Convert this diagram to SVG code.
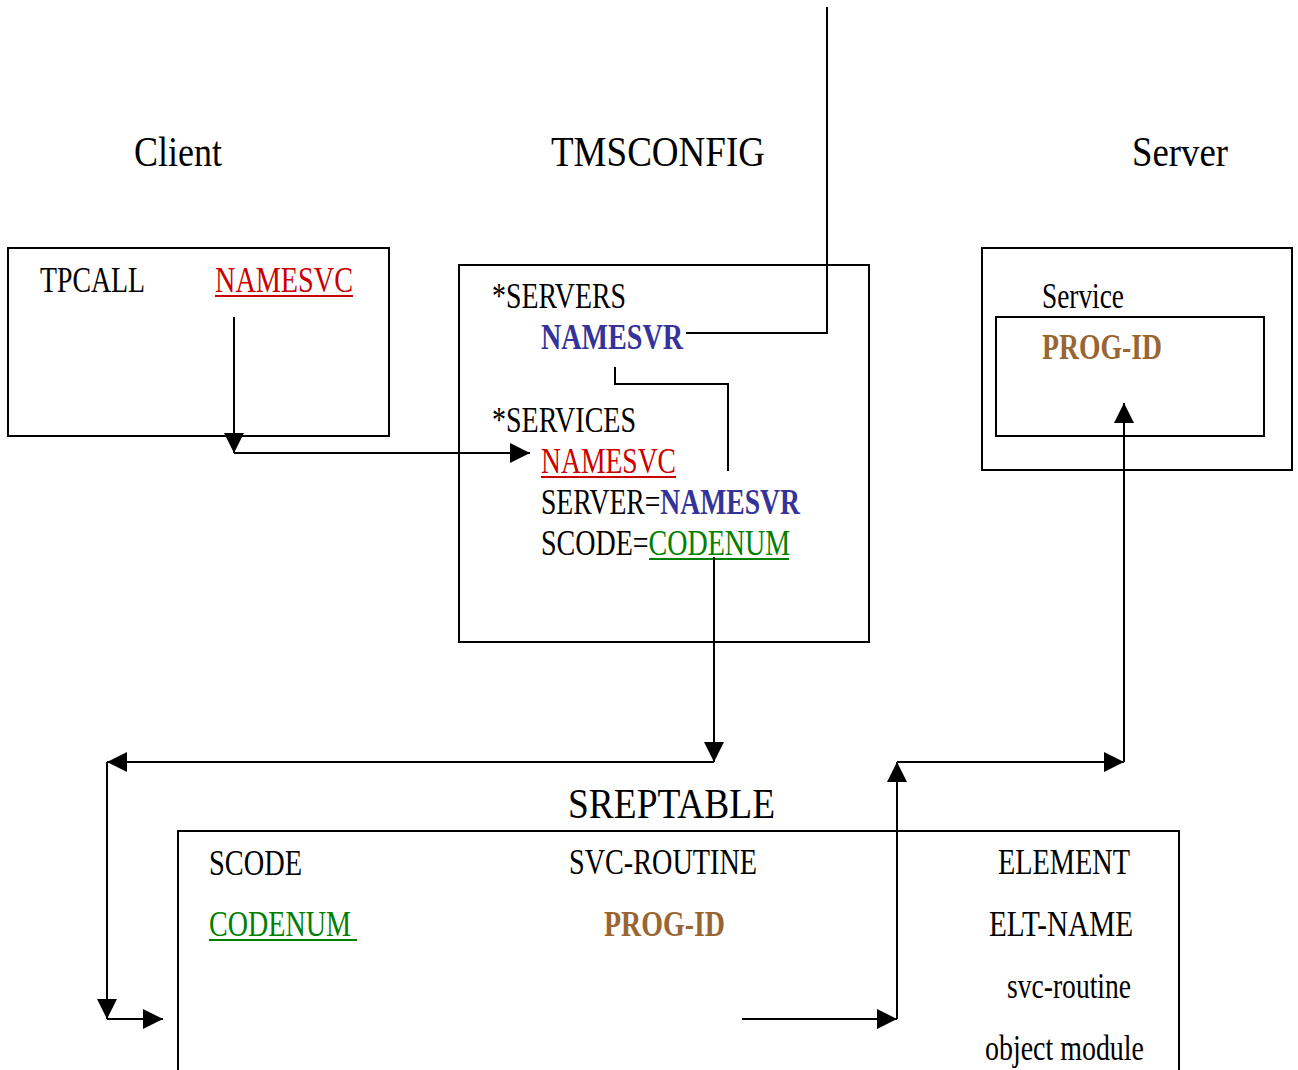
<svg xmlns="http://www.w3.org/2000/svg" width="1298" height="1070" viewBox="0 0 1298 1070">
<style>
text{font-family:"Liberation Serif","Times New Roman",serif;font-size:35px;fill:#000}
.t{font-size:43px}
.red{fill:#cc0000}
.blue{fill:#333399;font-weight:bold}
.brown{fill:#996633;font-weight:bold}
.green{fill:#008000}
.box{fill:none;stroke:#000;stroke-width:2}
.ln{fill:none;stroke:#000;stroke-width:2}
.ul{stroke-width:2}
</style>
<defs>
<marker id="ah" viewBox="0 0 20 20" refX="20" refY="10" markerWidth="20" markerHeight="20" markerUnits="userSpaceOnUse" orient="auto">
<path d="M0,0 L20,10 L0,20 Z" fill="#000"/>
</marker>
</defs>
<rect width="1298" height="1070" fill="#fff"/>

<g id="titles">
<text class="t" x="134" y="166" textLength="88" lengthAdjust="spacingAndGlyphs">Client</text>
<text class="t" x="551" y="166" textLength="214" lengthAdjust="spacingAndGlyphs">TMSCONFIG</text>
<text class="t" x="1132" y="166" textLength="96" lengthAdjust="spacingAndGlyphs">Server</text>
</g>

<g id="client">
<rect class="box" x="8" y="248" width="381" height="188"/>
<text x="40" y="292" textLength="105" lengthAdjust="spacingAndGlyphs">TPCALL</text>
<text class="red" x="215" y="292" textLength="138" lengthAdjust="spacingAndGlyphs">NAMESVC</text>
<line x1="215" y1="296" x2="353" y2="296" stroke="#cc0000" class="ul"/>
</g>

<g id="tmsconfig">
<rect class="box" x="459" y="265" width="410" height="377"/>
<text x="492" y="308" textLength="134" lengthAdjust="spacingAndGlyphs">*SERVERS</text>
<text class="blue" x="541" y="349" textLength="142" lengthAdjust="spacingAndGlyphs">NAMESVR</text>
<text x="492" y="432" textLength="144" lengthAdjust="spacingAndGlyphs">*SERVICES</text>
<text class="red" x="541" y="473" textLength="135" lengthAdjust="spacingAndGlyphs">NAMESVC</text>
<line x1="541" y1="477" x2="676" y2="477" stroke="#cc0000" class="ul"/>
<text transform="translate(541,514) scale(0.79,1)">SERVER=<tspan class="blue">NAMESVR</tspan></text>
<text transform="translate(541,555) scale(0.8,1)">SCODE=<tspan class="green">CODENUM</tspan></text>
<line x1="649" y1="559" x2="789" y2="559" stroke="#008000" class="ul"/>
</g>

<g id="server">
<rect class="box" x="982" y="248" width="310" height="222"/>
<rect class="box" x="996" y="317" width="268" height="119"/>
<text x="1042" y="308" textLength="82" lengthAdjust="spacingAndGlyphs">Service</text>
<text class="brown" x="1042" y="359" textLength="120" lengthAdjust="spacingAndGlyphs">PROG-ID</text>
</g>

<g id="sreptable">
<text class="t" x="568" y="818" textLength="207" lengthAdjust="spacingAndGlyphs">SREPTABLE</text>
<path class="box" d="M178,1075 L178,831 L1179,831 L1179,1075"/>
<text x="209" y="875" textLength="93" lengthAdjust="spacingAndGlyphs">SCODE</text>
<text class="green" x="209" y="936" textLength="142" lengthAdjust="spacingAndGlyphs">CODENUM</text>
<line x1="209" y1="940" x2="357" y2="940" stroke="#008000" class="ul"/>
<text x="569" y="874" textLength="188" lengthAdjust="spacingAndGlyphs">SVC-ROUTINE</text>
<text class="brown" x="604" y="936" textLength="121" lengthAdjust="spacingAndGlyphs">PROG-ID</text>
<text x="998" y="874" textLength="132" lengthAdjust="spacingAndGlyphs">ELEMENT</text>
<text x="989" y="936" textLength="144" lengthAdjust="spacingAndGlyphs">ELT-NAME</text>
<text x="1007" y="998" textLength="124" lengthAdjust="spacingAndGlyphs">svc-routine</text>
<text x="985" y="1060" textLength="159" lengthAdjust="spacingAndGlyphs">object module</text>
</g>

<g id="connectors">
<polyline class="ln" points="686,333 827,333 827,7"/>
<polyline class="ln" points="615,367 615,384 728,384 728,471"/>
<line class="ln" x1="234" y1="317" x2="234" y2="453" marker-end="url(#ah)"/>
<line class="ln" x1="234" y1="453" x2="530" y2="453" marker-end="url(#ah)"/>
<line class="ln" x1="714" y1="557" x2="714" y2="762" marker-end="url(#ah)"/>
<line class="ln" x1="714" y1="762" x2="107" y2="762" marker-end="url(#ah)"/>
<line class="ln" x1="107" y1="762" x2="107" y2="1019" marker-end="url(#ah)"/>
<line class="ln" x1="107" y1="1019" x2="163" y2="1019" marker-end="url(#ah)"/>
<line class="ln" x1="742" y1="1019" x2="897" y2="1019" marker-end="url(#ah)"/>
<line class="ln" x1="897" y1="1019" x2="897" y2="762" marker-end="url(#ah)"/>
<line class="ln" x1="897" y1="762" x2="1124" y2="762" marker-end="url(#ah)"/>
<line class="ln" x1="1124" y1="762" x2="1124" y2="403" marker-end="url(#ah)"/>
</g>
</svg>
